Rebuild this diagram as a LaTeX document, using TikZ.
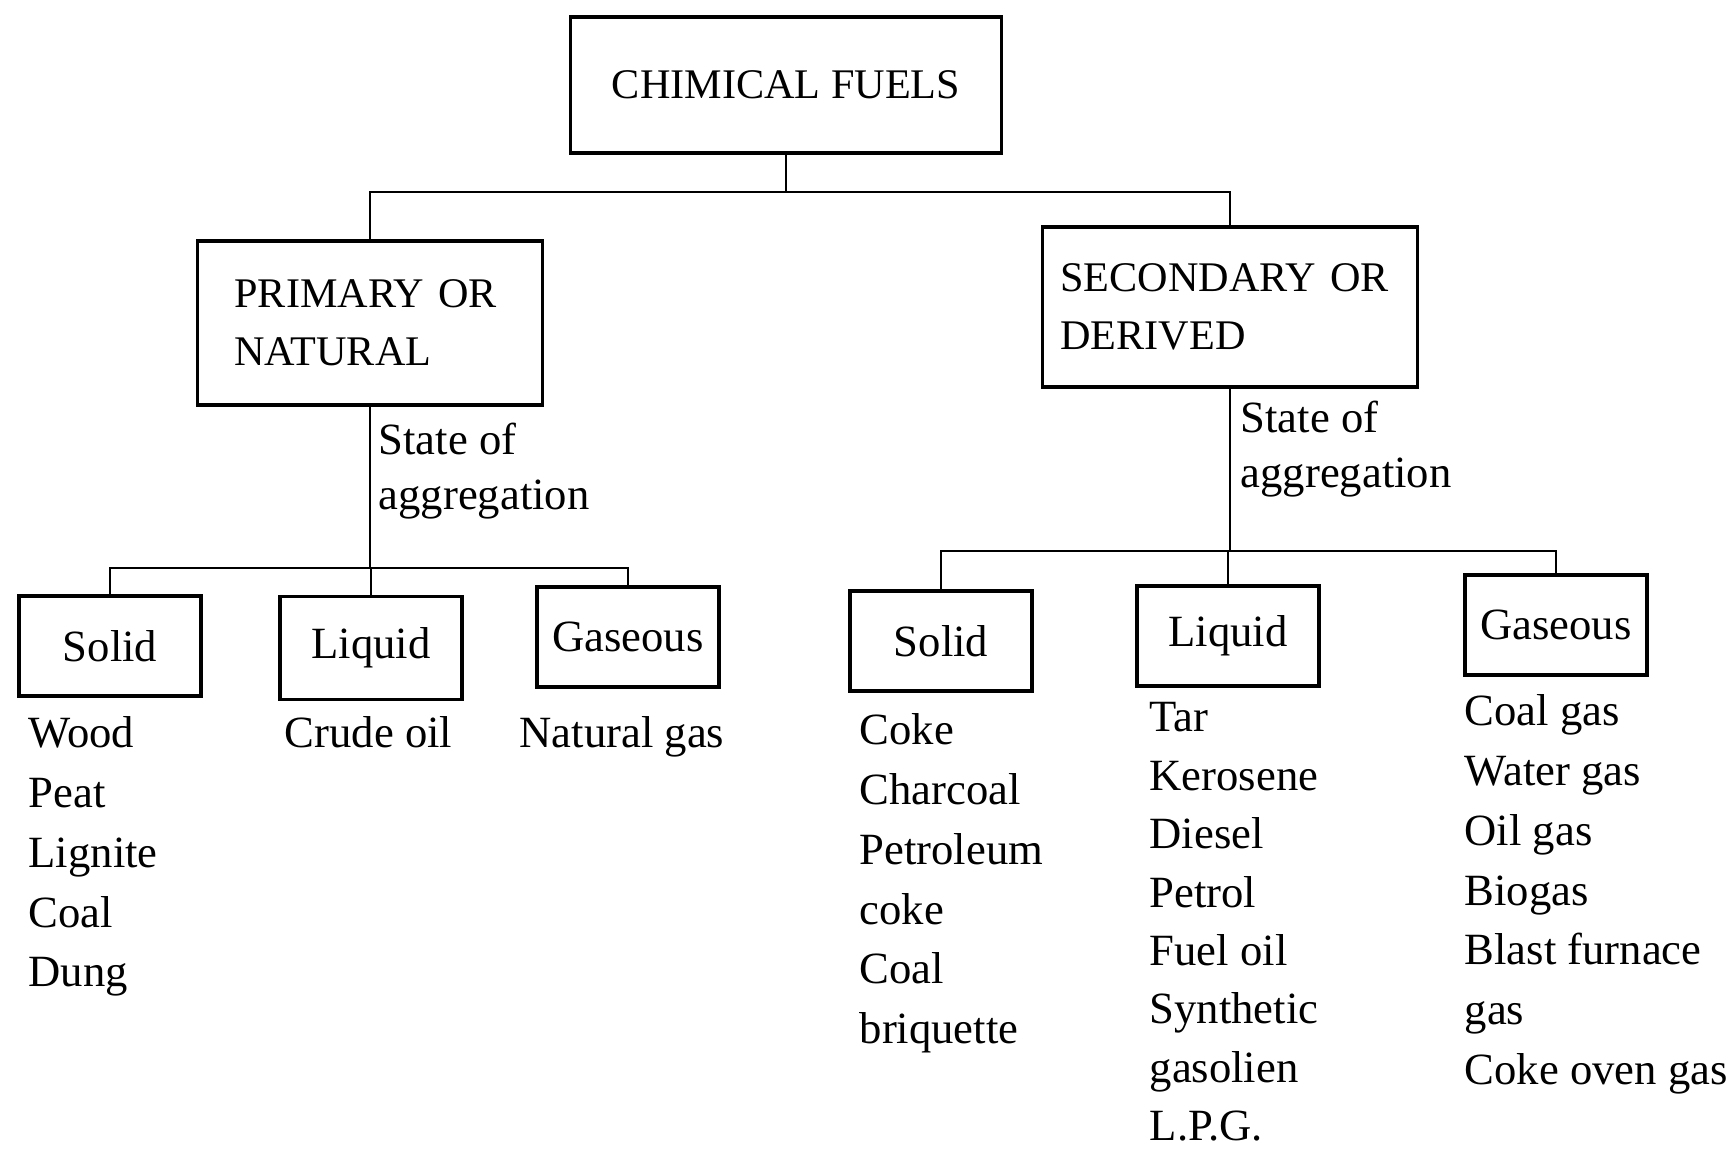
\documentclass[tikz,border=0pt]{standalone}
\usepackage{fontspec}
\setmainfont{Liberation Serif}
\usepackage{tikz}
\usetikzlibrary{positioning}

\newcommand\capsfont{\fontsize{12}{16.5}\selectfont}
\newcommand\itemfont{\fontsize{12.7}{17}\selectfont}
\newcommand\tightfont{\fontsize{12.7}{16.6}\selectfont}
\newcommand\labelfont{\fontsize{12.7}{15.6}\selectfont}

\tikzset{
  fuelbox/.style={draw, line width=0.9pt, inner sep=0pt, font=\capsfont},
  kindbox/.style={draw, line width=0.9pt, minimum width=1.82cm, minimum height=1cm, font=\itemfont},
  itemlist/.style={align=left, anchor=north west, inner sep=0pt, font=\itemfont},
  link/.style={line width=0.6pt}
}

\begin{document}
\begin{tikzpicture}[x=0.01cm, y=-0.01cm]
    \useasboundingbox (0,0) rectangle (1733,1156);

    % Nodes {fuels, primary, secondary}
    \node [fuelbox, minimum width=4.31cm, minimum height=1.36cm] (fuels) at (786,85) {CHIMICAL FUELS};
    \node [fuelbox, text width=2.71cm, inner xsep=0.37cm, minimum height=1.64cm, align=left] (primary) at (370,323) {PRIMARY OR\\NATURAL};
    \node [fuelbox, text width=3.39cm, inner xsep=0.18cm, minimum height=1.6cm, align=left] (secondary) at (1230,307) {SECONDARY OR\\DERIVED};

    % Nodes {states of aggregation}
    \node [kindbox]                      (solidA)  at (110,646)  {Solid};
    \node [kindbox, minimum height=1.03cm] (liquidA) at (371,648)  {Liquid};
    \node [kindbox]                      (gasA)    at (628,637)  {Gaseous};
    \node [kindbox]                      (solidB)  at (941,641)  {Solid};
    \node [kindbox]                      (liquidB) at (1228,636) {Liquid};
    \node [kindbox]                      (gasB)    at (1556,625) {Gaseous};

    \node [itemlist, font=\labelfont] (stateA) at (378,422)  {State of\\aggregation};
    \node [itemlist, font=\labelfont] (stateB) at (1240,400) {State of\\aggregation};

    % Examples
    \node [itemlist] (solidAlist)  at (28,716)   {Wood\\Peat\\Lignite\\Coal\\Dung};
    \node [itemlist] (liquidAlist) at (284,716)  {Crude oil};
    \node [itemlist] (gasAlist)    at (519,716)  {Natural gas};
    \node [itemlist] (solidBlist)  at (859,713)  {Coke\\Charcoal\\Petroleum\\coke\\Coal\\briquette};
    \node [itemlist, font=\tightfont] (liquidBlist) at (1149,702) {Tar\\Kerosene\\Diesel\\Petrol\\Fuel oil\\Synthetic\\gasolien\\L.P.G.};
    \node [itemlist] (gasBlist)    at (1464,694) {Coal gas\\Water gas\\Oil gas\\Biogas\\Blast furnace\\gas\\Coke oven gas};

    % Paths
    \draw [link] (fuels.south) -- ++(0,37) coordinate (busT) -| (primary.north);
    \draw [link] (busT) -| (secondary.north);
    \draw [link] (primary.south) -- ++(0,161) coordinate (busA) -| (liquidA.north);
    \draw [link] (busA) -| (solidA.north);
    \draw [link] (busA) -| (gasA.north);
    \draw [link] (secondary.south) -- ++(0,162) coordinate (busB) -| (liquidB.north);
    \draw [link] (busB) -| (solidB.north);
    \draw [link] (busB) -| (gasB.north);
\end{tikzpicture}
\end{document}
